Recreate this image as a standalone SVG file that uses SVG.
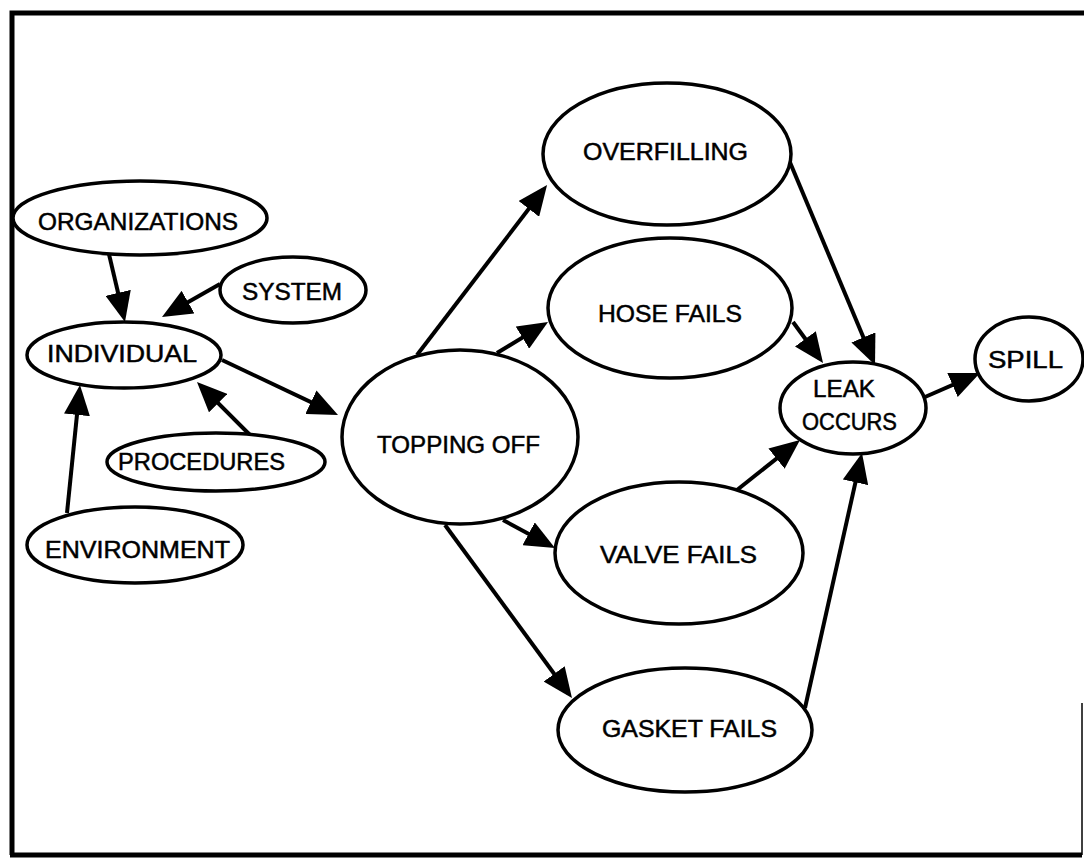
<svg xmlns="http://www.w3.org/2000/svg" width="1084" height="860" viewBox="0 0 1084 860">
<style>
.n ellipse{fill:#fff;stroke:#000;stroke-width:3.5}
.n text{font-family:"Liberation Sans",Arial,sans-serif;font-size:24px;fill:#000;stroke:#000;stroke-width:0.5}
.c line{stroke:#000;stroke-width:4;marker-end:url(#arr)}
</style>
<defs>
<marker id="arr" markerUnits="userSpaceOnUse" markerWidth="30" markerHeight="26" refX="24" refY="13" orient="auto">
<path d="M0,0 L30,13 L0,26 Z" fill="#000"/>
</marker>
</defs>
<rect width="1084" height="860" fill="#fff"/>
<g id="frame" stroke="#000" fill="none">
<path d="M12,855 L12,13 L1084,13" stroke-width="5"/>
<path d="M10,855 L1082,855" stroke-width="5"/>
<path d="M1082,703 L1082,855" stroke-width="1.5"/>
</g>
<g class="c" id="connectors">
<line x1="108" y1="250" x2="123.6" y2="316.2"/>
<line x1="220" y1="284" x2="167.2" y2="314"/>
<line x1="222" y1="360" x2="332.6" y2="412.4"/>
<line x1="252" y1="437" x2="201.2" y2="386.2"/>
<line x1="67" y1="513" x2="79.4" y2="391"/>
<line x1="417" y1="355" x2="543.4" y2="189.8"/>
<line x1="497" y1="353" x2="542.9" y2="325.1"/>
<line x1="503" y1="520" x2="549.7" y2="545.2"/>
<line x1="445" y1="525" x2="568.4" y2="693.2"/>
<line x1="789" y1="160" x2="872.7" y2="359.5"/>
<line x1="793" y1="322" x2="819.5" y2="358.2"/>
<line x1="737" y1="490" x2="795.3" y2="443.7"/>
<line x1="805" y1="708" x2="860.7" y2="458.9"/>
<line x1="925" y1="397" x2="974.5" y2="375.4"/>
</g>
<g class="n" id="organizations"><ellipse cx="140" cy="218" rx="127" ry="37"/><text x="38" y="230" textLength="200" lengthAdjust="spacingAndGlyphs">ORGANIZATIONS</text></g>
<g class="n" id="system"><ellipse cx="293" cy="290" rx="73" ry="33"/><text x="242" y="300" textLength="100" lengthAdjust="spacingAndGlyphs">SYSTEM</text></g>
<g class="n" id="individual"><ellipse cx="124" cy="355" rx="97" ry="33"/><text x="47" y="362" textLength="150" lengthAdjust="spacingAndGlyphs">INDIVIDUAL</text></g>
<g class="n" id="procedures"><ellipse cx="216" cy="462" rx="109" ry="29"/><text x="118" y="470" textLength="167" lengthAdjust="spacingAndGlyphs">PROCEDURES</text></g>
<g class="n" id="environment"><ellipse cx="135" cy="545" rx="108" ry="38"/><text x="45" y="558" textLength="185" lengthAdjust="spacingAndGlyphs">ENVIRONMENT</text></g>
<g class="n" id="topping-off"><ellipse cx="460" cy="437" rx="118" ry="87"/><text x="377" y="453" textLength="163" lengthAdjust="spacingAndGlyphs">TOPPING OFF</text></g>
<g class="n" id="overfilling"><ellipse cx="667" cy="154" rx="124" ry="71"/><text x="583" y="160" textLength="165" lengthAdjust="spacingAndGlyphs">OVERFILLING</text></g>
<g class="n" id="hose-fails"><ellipse cx="670" cy="308" rx="122" ry="70"/><text x="598" y="322" textLength="144" lengthAdjust="spacingAndGlyphs">HOSE FAILS</text></g>
<g class="n" id="valve-fails"><ellipse cx="679" cy="553" rx="124" ry="71"/><text x="600" y="563" textLength="157" lengthAdjust="spacingAndGlyphs">VALVE FAILS</text></g>
<g class="n" id="gasket-fails"><ellipse cx="685" cy="730" rx="127" ry="62"/><text x="602" y="737" textLength="175" lengthAdjust="spacingAndGlyphs">GASKET FAILS</text></g>
<g class="n" id="leak-occurs"><ellipse cx="853" cy="408" rx="73" ry="46"/><text x="813" y="397" textLength="62" lengthAdjust="spacingAndGlyphs">LEAK</text><text x="802" y="430" textLength="95" lengthAdjust="spacingAndGlyphs">OCCURS</text></g>
<g class="n" id="spill"><ellipse cx="1029" cy="359" rx="54" ry="42"/><text x="988" y="368" textLength="75" lengthAdjust="spacingAndGlyphs">SPILL</text></g>
</svg>
